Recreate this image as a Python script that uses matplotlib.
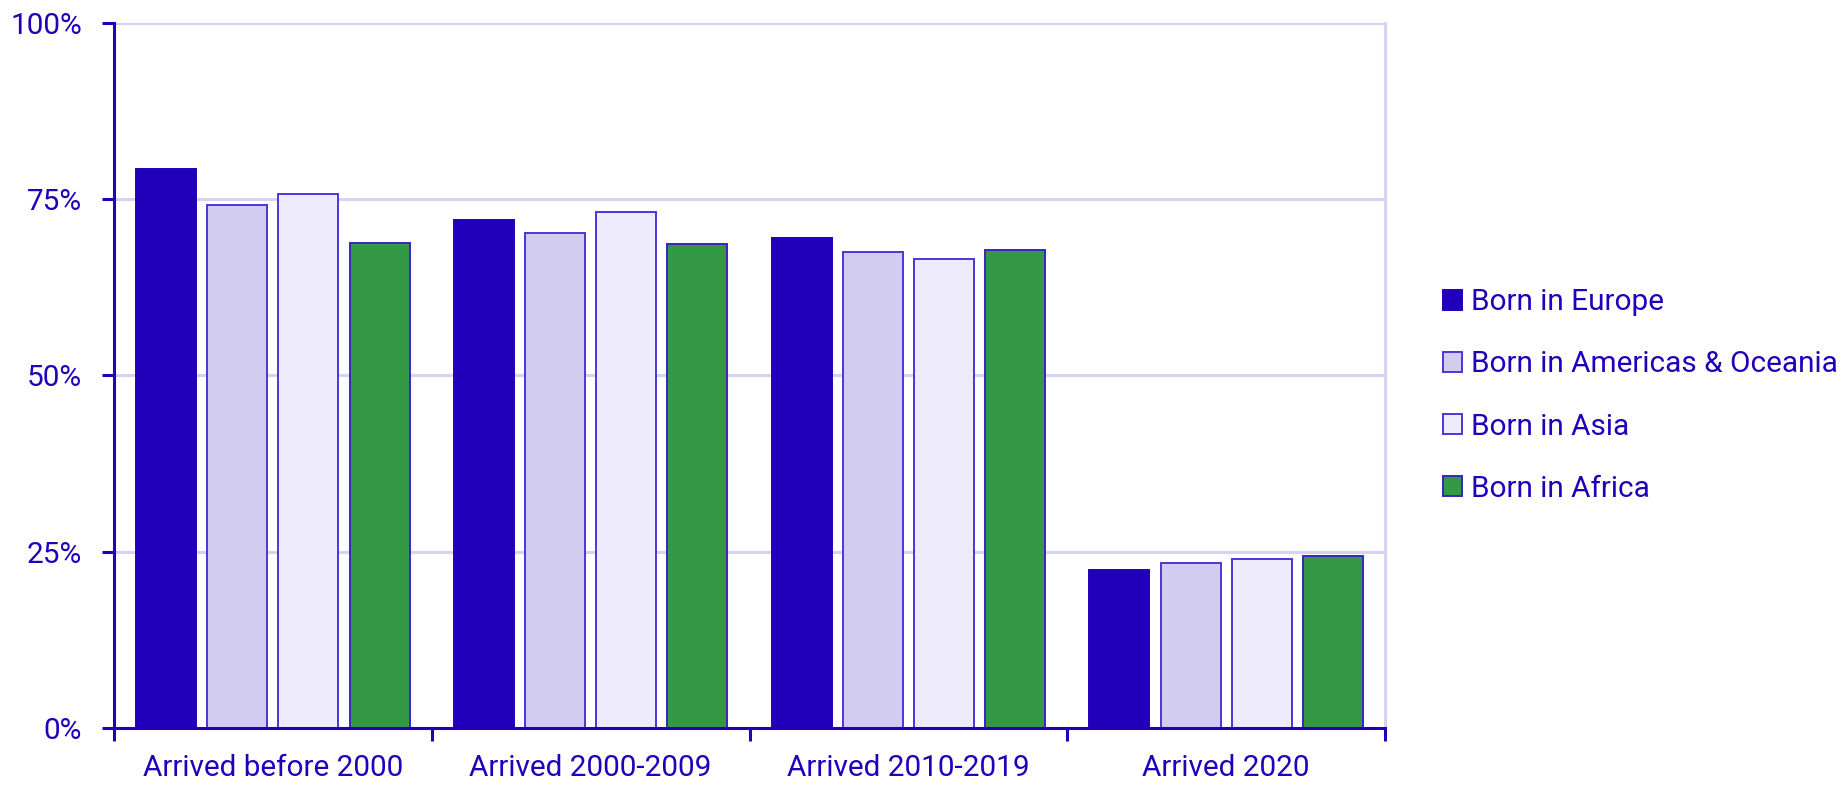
import matplotlib
matplotlib.use('Agg')
import matplotlib.pyplot as plt
import numpy as np

plt.rcParams['font.family'] = ['Roboto', 'DejaVu Sans']

groups = ['Arrived before 2000', 'Arrived 2000-2009', 'Arrived 2010-2019', 'Arrived 2020']
series = ['Born in Europe', 'Born in Americas & Oceania', 'Born in Asia', 'Born in Africa']

europe = [79.3, 72.0, 69.4, 22.4]
americas = [74.1, 70.2, 67.4, 23.4]
asia = [75.7, 73.2, 66.5, 23.9]
africa = [68.8, 68.6, 67.7, 24.4]

y_ticks = [0, 25, 50, 75, 100]
y_labels = ['0%', '25%', '50%', '75%', '100%']

ink = '#2200bb'
fills = ['#2200bb', '#d2cdf0', '#edebfc', '#339944']
edges = ['#2200bb', '#4b36d6', '#4b36d6', '#3a22c8']
grid_col = '#d6d3f2'
fs = 21.4

fig = plt.figure(figsize=(18.47, 7.85), dpi=100)
ax = fig.add_axes([114 / 1847, 1 - 728 / 785, (1385 - 114) / 1847, (728 - 22.5) / 785])

x = np.arange(len(groups))
pitch = 0.224
width = 0.189
values = [europe, americas, asia, africa]
for i, (vals, name) in enumerate(zip(values, series)):
    ax.bar(x + (i - 1.5) * pitch, vals, width, color=fills[i], edgecolor=edges[i],
           linewidth=1.4, label=name, zorder=3)

ax.set_xlim(-0.5, 3.5)
ax.set_ylim(0, 100)

ax.set_yticks(y_ticks, y_labels)
for yt in y_ticks[1:]:
    ax.axhline(yt, color=grid_col, linewidth=2.2, zorder=1)

ax.set_xticks(x, groups)
ax.set_xticks(np.arange(-0.5, 4, 1), minor=True)
ax.tick_params(axis='x', which='major', length=0, pad=19, labelsize=fs, labelcolor=ink)
ax.tick_params(axis='x', which='minor', length=9, width=2.2, color=ink, direction='out')
ax.tick_params(axis='y', length=9, width=2.2, color=ink, pad=14, labelsize=fs, labelcolor=ink)

for side in ['left', 'bottom']:
    ax.spines[side].set_color(ink)
    ax.spines[side].set_linewidth(2.2)
ax.spines['right'].set_color(grid_col)
ax.spines['right'].set_linewidth(2.2)
ax.spines['top'].set_visible(False)
ax.spines['left'].set_zorder(4)
ax.spines['bottom'].set_zorder(4)

leg = fig.legend(loc='center left', bbox_to_anchor=(1443 / 1847, 1 - 395.5 / 785),
                 frameon=False, fontsize=fs, handlelength=0.65, handleheight=0.65,
                 handletextpad=0.28, labelspacing=1.15, borderpad=0, borderaxespad=0)
for t in leg.get_texts():
    t.set_color(ink)

fig.savefig('out.png', dpi=100)
